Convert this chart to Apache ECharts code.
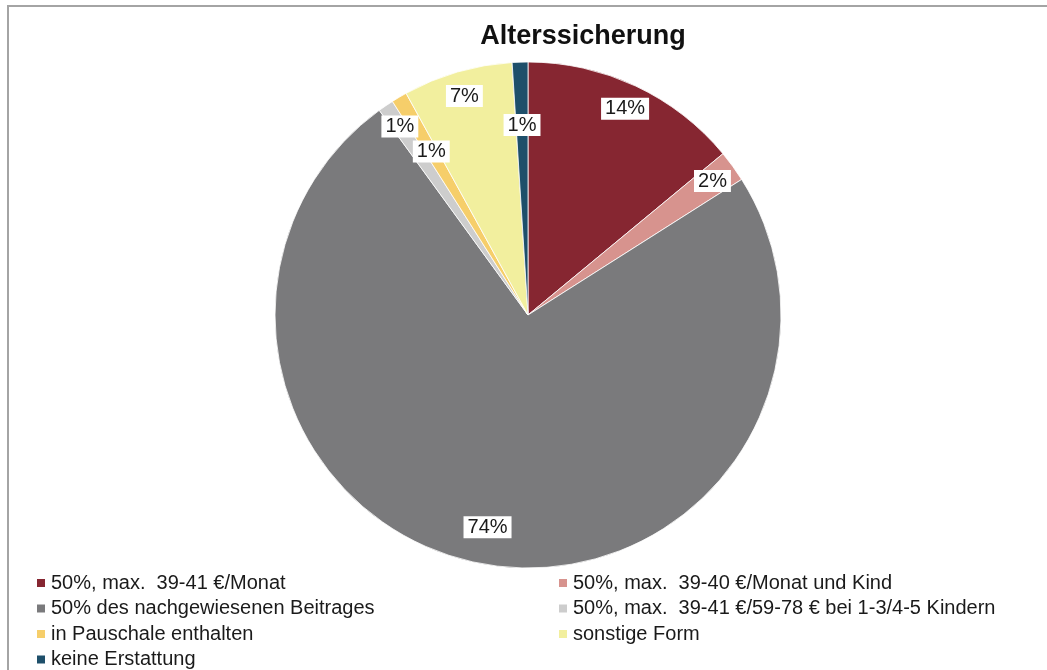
<!DOCTYPE html>
<html>
<head>
<meta charset="utf-8">
<script src="https://cdn.jsdelivr.net/npm/echarts@6/dist/echarts.min.js"></script>
<style>
  html, body { margin: 0; padding: 0; background: #fff; }
  #chart { width: 1047px; height: 670px; }
</style>
</head>
<body>
<div id="chart"></div>
<script>
// Anteile in Prozent, im Uhrzeigersinn ab 12 Uhr
const categories = [
  '50%, max.  39-41 €/Monat',
  '50%, max.  39-40 €/Monat und Kind',
  '50% des nachgewiesenen Beitrages',
  '50%, max.  39-41 €/59-78 € bei 1-3/4-5 Kindern',
  'in Pauschale enthalten',
  'sonstige Form',
  'keine Erstattung'
]
const shares = [14, 2, 74, 1, 1, 7, 1]
const colors = ['#862631', '#d7938e', '#7a7a7c', '#cdcdcd', '#f6ce6a', '#f2ef9e', '#1e4f6a']

const center = [528, 315]
const radius = 253

const pieData = categories.map((name, i) => ({
  name,
  value: shares[i],
  itemStyle: { color: colors[i] }
}))

// transparent ring that only carries the labels of some slices
const labelRing = (r0, r1, names) => ({
  type: 'pie',
  center,
  radius: [r0, r1],
  startAngle: 90,
  clockwise: true,
  silent: true,
  animation: false,
  itemStyle: { color: 'rgba(0,0,0,0)', borderWidth: 0 },
  labelLine: { show: false },
  data: categories.map((name, i) => ({
    name,
    value: shares[i],
    label: {
      show: names.includes(name),
      position: 'inside',
      formatter: '{c}%',
      color: '#1a1a1a',
      fontSize: 20,
      fontFamily: 'Liberation Sans, Arial, sans-serif',
      backgroundColor: '#fff',
      padding: [2, 4, 0, 4]
    }
  }))
})

const chart = echarts.init(document.getElementById('chart'))

const legendBase = {
  orient: 'vertical',
  top: 573,
  itemWidth: 10,
  itemHeight: 10,
  itemGap: 5.5,
  icon: 'rect',
  selectedMode: false,
  textStyle: {
    fontSize: 20,
    color: '#1a1a1a',
    fontFamily: 'Liberation Sans, Arial, sans-serif'
  },
  padding: 0
}

chart.setOption({
  backgroundColor: '#fff',
  animation: false,
  title: {
    text: 'Alterssicherung',
    left: 578,
    top: 18,
    textAlign: 'center',
    textStyle: {
      fontSize: 27,
      fontWeight: 'bold',
      color: '#111',
      fontFamily: 'Liberation Sans, Arial, sans-serif'
    }
  },
  legend: [
    Object.assign({}, legendBase, {
      left: 35,
      data: [categories[0], categories[2], categories[4], categories[6]]
    }),
    Object.assign({}, legendBase, {
      left: 557,
      data: [categories[1], categories[3], categories[5]]
    })
  ],
  graphic: [
    {
      type: 'polyline',
      shape: { points: [[8, 670], [8, 6], [1047, 6]] },
      style: { stroke: '#a4a4a4', lineWidth: 2, fill: null },
      silent: true
    }
  ],
  series: [
    {
      type: 'pie',
      center,
      radius: [0, radius],
      startAngle: 90,
      clockwise: true,
      animation: false,
      itemStyle: { borderColor: '#fff', borderWidth: 0.8 },
      label: { show: false },
      labelLine: { show: false },
      data: pieData
    },
    labelRing(200, 250, [categories[0], categories[1], categories[3], categories[5]]),
    labelRing(188, 238, [categories[2]]),
    labelRing(162, 212, [categories[4], categories[6]])
  ]
})
</script>
</body>
</html>
